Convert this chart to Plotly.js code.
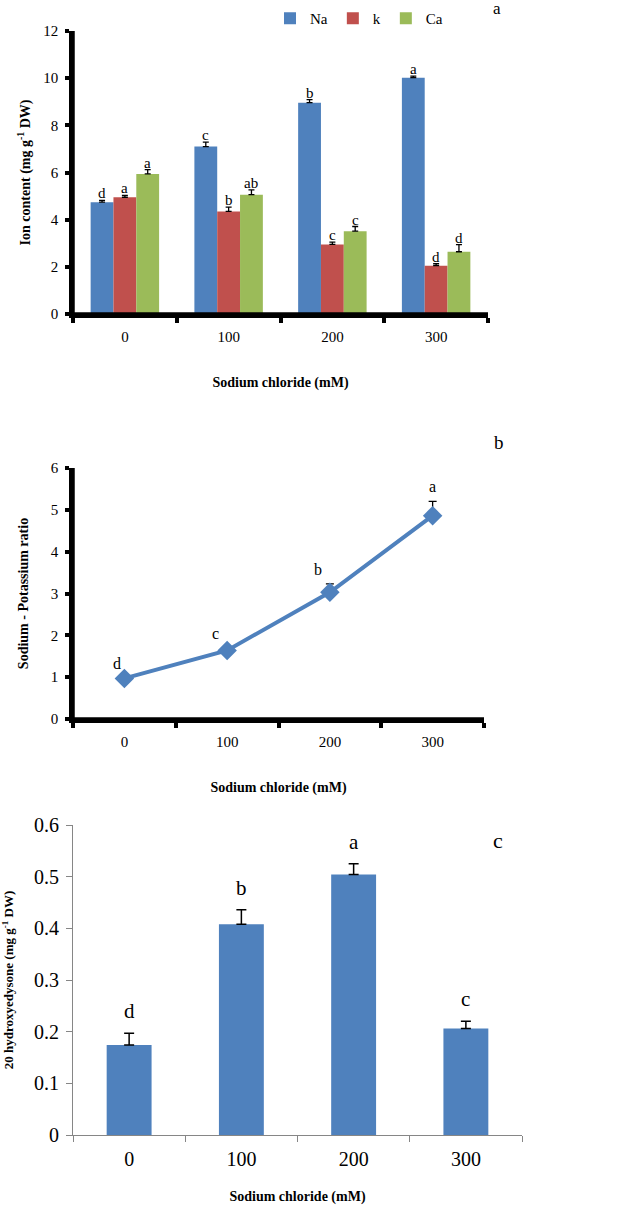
<!DOCTYPE html>
<html>
<head>
<meta charset="utf-8">
<script src="https://cdn.plot.ly/plotly-3.0.1.min.js"></script>
<style>html,body{margin:0;padding:0;background:#fff;}#chart{width:636px;height:1211px;}</style>
</head>
<body>
<div id="chart"></div>
<script>
// ---- data ----
var doses = ['0', '100', '200', '300'];

// panel a: ion content (mg g-1 DW)
var naVals = [4.74, 7.10, 8.96, 10.02];
var naErr  = [0.08, 0.19, 0.13, 0.07];
var naLetters = ['d', 'c', 'b', 'a'];
var kVals = [4.95, 4.35, 2.95, 2.05];
var kErr  = [0.08, 0.18, 0.10, 0.08];
var kLetters = ['a', 'b', 'c', 'd'];
var caVals = [5.94, 5.06, 3.51, 2.64];
var caErr  = [0.18, 0.20, 0.20, 0.30];
var caLetters = ['a', 'ab', 'c', 'd'];

// panel b: sodium / potassium ratio
var ratioVals = [0.97, 1.64, 3.03, 4.86];
var ratioErr  = [0.02, 0.05, 0.20, 0.34];
var ratioLetters = ['d', 'c', 'b', 'a'];

// panel c: 20 hydroxyecdysone (mg g-1 DW)
var ecdVals = [0.174, 0.408, 0.504, 0.206];
var ecdErr  = [0.023, 0.028, 0.021, 0.014];
var ecdLetters = ['d', 'b', 'a', 'c'];

// ---- styling ----
var SERIF = 'Liberation Serif';
var BLUE = '#4F81BD', RED = '#C0504D', GREEN = '#9BBB59';
var W = 636, H = 1211;
function px(a, b) { return [a / W, b / W]; }
function py(bottom, top) { return [1 - bottom / H, 1 - top / H]; }
function zeros(n) { var z = []; for (var i = 0; i < n; i++) z.push(0); return z; }
function upErr(arr, thick, width) {
  return {type: 'data', array: arr, arrayminus: zeros(arr.length), symmetric: false,
          visible: true, color: '#000', thickness: thick, width: width};
}

var traces = [];
var seriesA = [
  {name: 'Na', vals: naVals, err: naErr, color: BLUE},
  {name: 'k', vals: kVals, err: kErr, color: RED},
  {name: 'Ca', vals: caVals, err: caErr, color: GREEN}
];
seriesA.forEach(function (s) {
  traces.push({type: 'bar', name: s.name, x: doses, y: s.vals, xaxis: 'x', yaxis: 'y',
    marker: {color: s.color}, error_y: upErr(s.err, 1.3, 3), hoverinfo: 'skip'});
});

traces.push({type: 'scatter', mode: 'lines+markers', x: doses, y: ratioVals, xaxis: 'x2', yaxis: 'y2',
  line: {color: BLUE, width: 4}, marker: {symbol: 'diamond', size: 15, color: BLUE},
  error_y: upErr(ratioErr, 1.3, 4), showlegend: false, hoverinfo: 'skip'});

traces.push({type: 'bar', x: doses, y: ecdVals, xaxis: 'x3', yaxis: 'y3', width: 0.4,
  marker: {color: BLUE}, error_y: upErr(ecdErr, 1.5, 5), showlegend: false, hoverinfo: 'skip'});

// ---- annotations (significance letters and panel labels) ----
var annotations = [];
var letterSets = [naLetters, kLetters, caLetters];
var barW = (1 - 0.34) / 3;
seriesA.forEach(function (s, j) {
  for (var i = 0; i < doses.length; i++) {
    annotations.push({xref: 'x', yref: 'y', x: i + (j - 1) * barW, y: s.vals[i] + s.err[i],
      text: letterSets[j][i], showarrow: false, yanchor: 'bottom', yshift: -3,
      font: {family: SERIF, size: 15, color: '#000'}});
  }
});
var ratioShift = [-7, -12, -12, 0];
for (var i = 0; i < doses.length; i++) {
  annotations.push({xref: 'x2', yref: 'y2', x: i, y: ratioVals[i] + ratioErr[i],
    text: ratioLetters[i], showarrow: false, yanchor: 'bottom', yshift: 4, xshift: ratioShift[i],
    font: {family: SERIF, size: 16, color: '#000'}});
  annotations.push({xref: 'x3', yref: 'y3', x: i, y: ecdVals[i] + ecdErr[i],
    text: ecdLetters[i], showarrow: false, yanchor: 'bottom', yshift: 8,
    font: {family: SERIF, size: 21, color: '#000'}});
}
annotations.push({xref: 'paper', yref: 'paper', x: 497 / W, y: 1 - 9 / H, text: 'a', showarrow: false,
  xanchor: 'center', yanchor: 'middle', font: {family: SERIF, size: 17, color: '#000'}});
annotations.push({xref: 'paper', yref: 'paper', x: 499 / W, y: 1 - 442 / H, text: 'b', showarrow: false,
  xanchor: 'center', yanchor: 'middle', font: {family: SERIF, size: 19, color: '#000'}});
annotations.push({xref: 'paper', yref: 'paper', x: 498 / W, y: 1 - 840 / H, text: 'c', showarrow: false,
  xanchor: 'center', yanchor: 'middle', font: {family: SERIF, size: 22, color: '#000'}});

// thick black axis frames (left and bottom) for panels a and b
var shapes = [];
[['x', 'y'], ['x2', 'y2']].forEach(function (p) {
  var xd = p[0] + ' domain', yd = p[1] + ' domain';
  shapes.push({type: 'line', xref: xd, yref: yd, x0: 0, x1: 0, y0: 0, y1: 1, layer: 'above',
    line: {color: '#000', width: 3.5}});
  shapes.push({type: 'line', xref: xd, yref: yd, x0: 0, x1: 1, y0: 0, y1: 0, layer: 'above',
    line: {color: '#000', width: 3.5}});
});

var titleFont = {family: SERIF, size: 14, color: '#000'};
function thickX(dom, yaName, fontSize, standoff) {
  return {domain: dom, anchor: yaName, type: 'category', range: [-0.5, 3.5], tickson: 'boundaries',
    showline: true, linecolor: '#000', linewidth: 3.5, ticks: 'outside', ticklen: 5, tickwidth: 3.5, tickcolor: '#000',
    showgrid: false, zeroline: false, ticklabelstandoff: 6,
    tickfont: {family: SERIF, size: fontSize, color: '#000'},
    title: {text: '<b>Sodium chloride (mM)</b>', font: titleFont, standoff: standoff}};
}
function thickY(dom, xaName, range, dtick, title, standoff) {
  return {domain: dom, anchor: xaName, range: range, dtick: dtick, showline: true, linecolor: '#000', linewidth: 3.5,
    ticks: 'outside', ticklen: 4, tickwidth: 3.5, tickcolor: '#000', showgrid: false, zeroline: false,
    ticklabelstandoff: 4, tickfont: {family: SERIF, size: 15, color: '#000'},
    title: {text: '<b>' + title + '</b>', font: titleFont, standoff: standoff}};
}

var layout = {
  width: W, height: H, margin: {l: 0, r: 0, t: 0, b: 0},
  paper_bgcolor: '#fff', plot_bgcolor: '#fff',
  font: {family: SERIF, color: '#000'},
  barmode: 'group', bargap: 0.34, bargroupgap: 0,
  showlegend: true,
  legend: {orientation: 'h', x: 270 / W, y: 1 - 2 / H, xanchor: 'left', yanchor: 'top',
    font: {family: SERIF, size: 15, color: '#000'}, itemwidth: 30, bgcolor: 'rgba(0,0,0,0)'},
  xaxis: thickX(px(73, 488), 'y', 15, 34),
  yaxis: thickY(py(314, 31), 'x', [0, 12], 2, 'Ion content (mg g<sup>-1</sup> DW)', 10),
  xaxis2: thickX(px(73, 484), 'y2', 15, 34),
  yaxis2: thickY(py(719, 468), 'x2', [0, 6], 1, 'Sodium - Potassium ratio', 20),
  xaxis3: {domain: px(73, 522), anchor: 'y3', type: 'category', range: [-0.5, 3.5], tickson: 'boundaries',
    showline: true, linecolor: '#868686', linewidth: 1, ticks: 'outside', ticklen: 6, tickcolor: '#868686',
    showgrid: false, zeroline: false, ticklabelstandoff: 6,
    tickfont: {family: SERIF, size: 20, color: '#000'},
    title: {text: '<b>Sodium chloride (mM)</b>', font: titleFont, standoff: 22}},
  yaxis3: {domain: py(1135, 825), anchor: 'x3', range: [0, 0.6], dtick: 0.1, showline: true,
    linecolor: '#868686', linewidth: 1, ticks: 'outside', ticklen: 6, tickcolor: '#868686',
    showgrid: false, zeroline: false, ticklabelstandoff: 3,
    tickfont: {family: SERIF, size: 20, color: '#000'},
    title: {text: '<b>20 hydroxyedysone (mg g<sup>-1</sup> DW)</b>', font: {family: SERIF, size: 13, color: '#000'}, standoff: 18}},
  shapes: shapes,
  annotations: annotations
};

Plotly.newPlot('chart', traces, layout, {displayModeBar: false, responsive: false});
</script>
</body>
</html>
